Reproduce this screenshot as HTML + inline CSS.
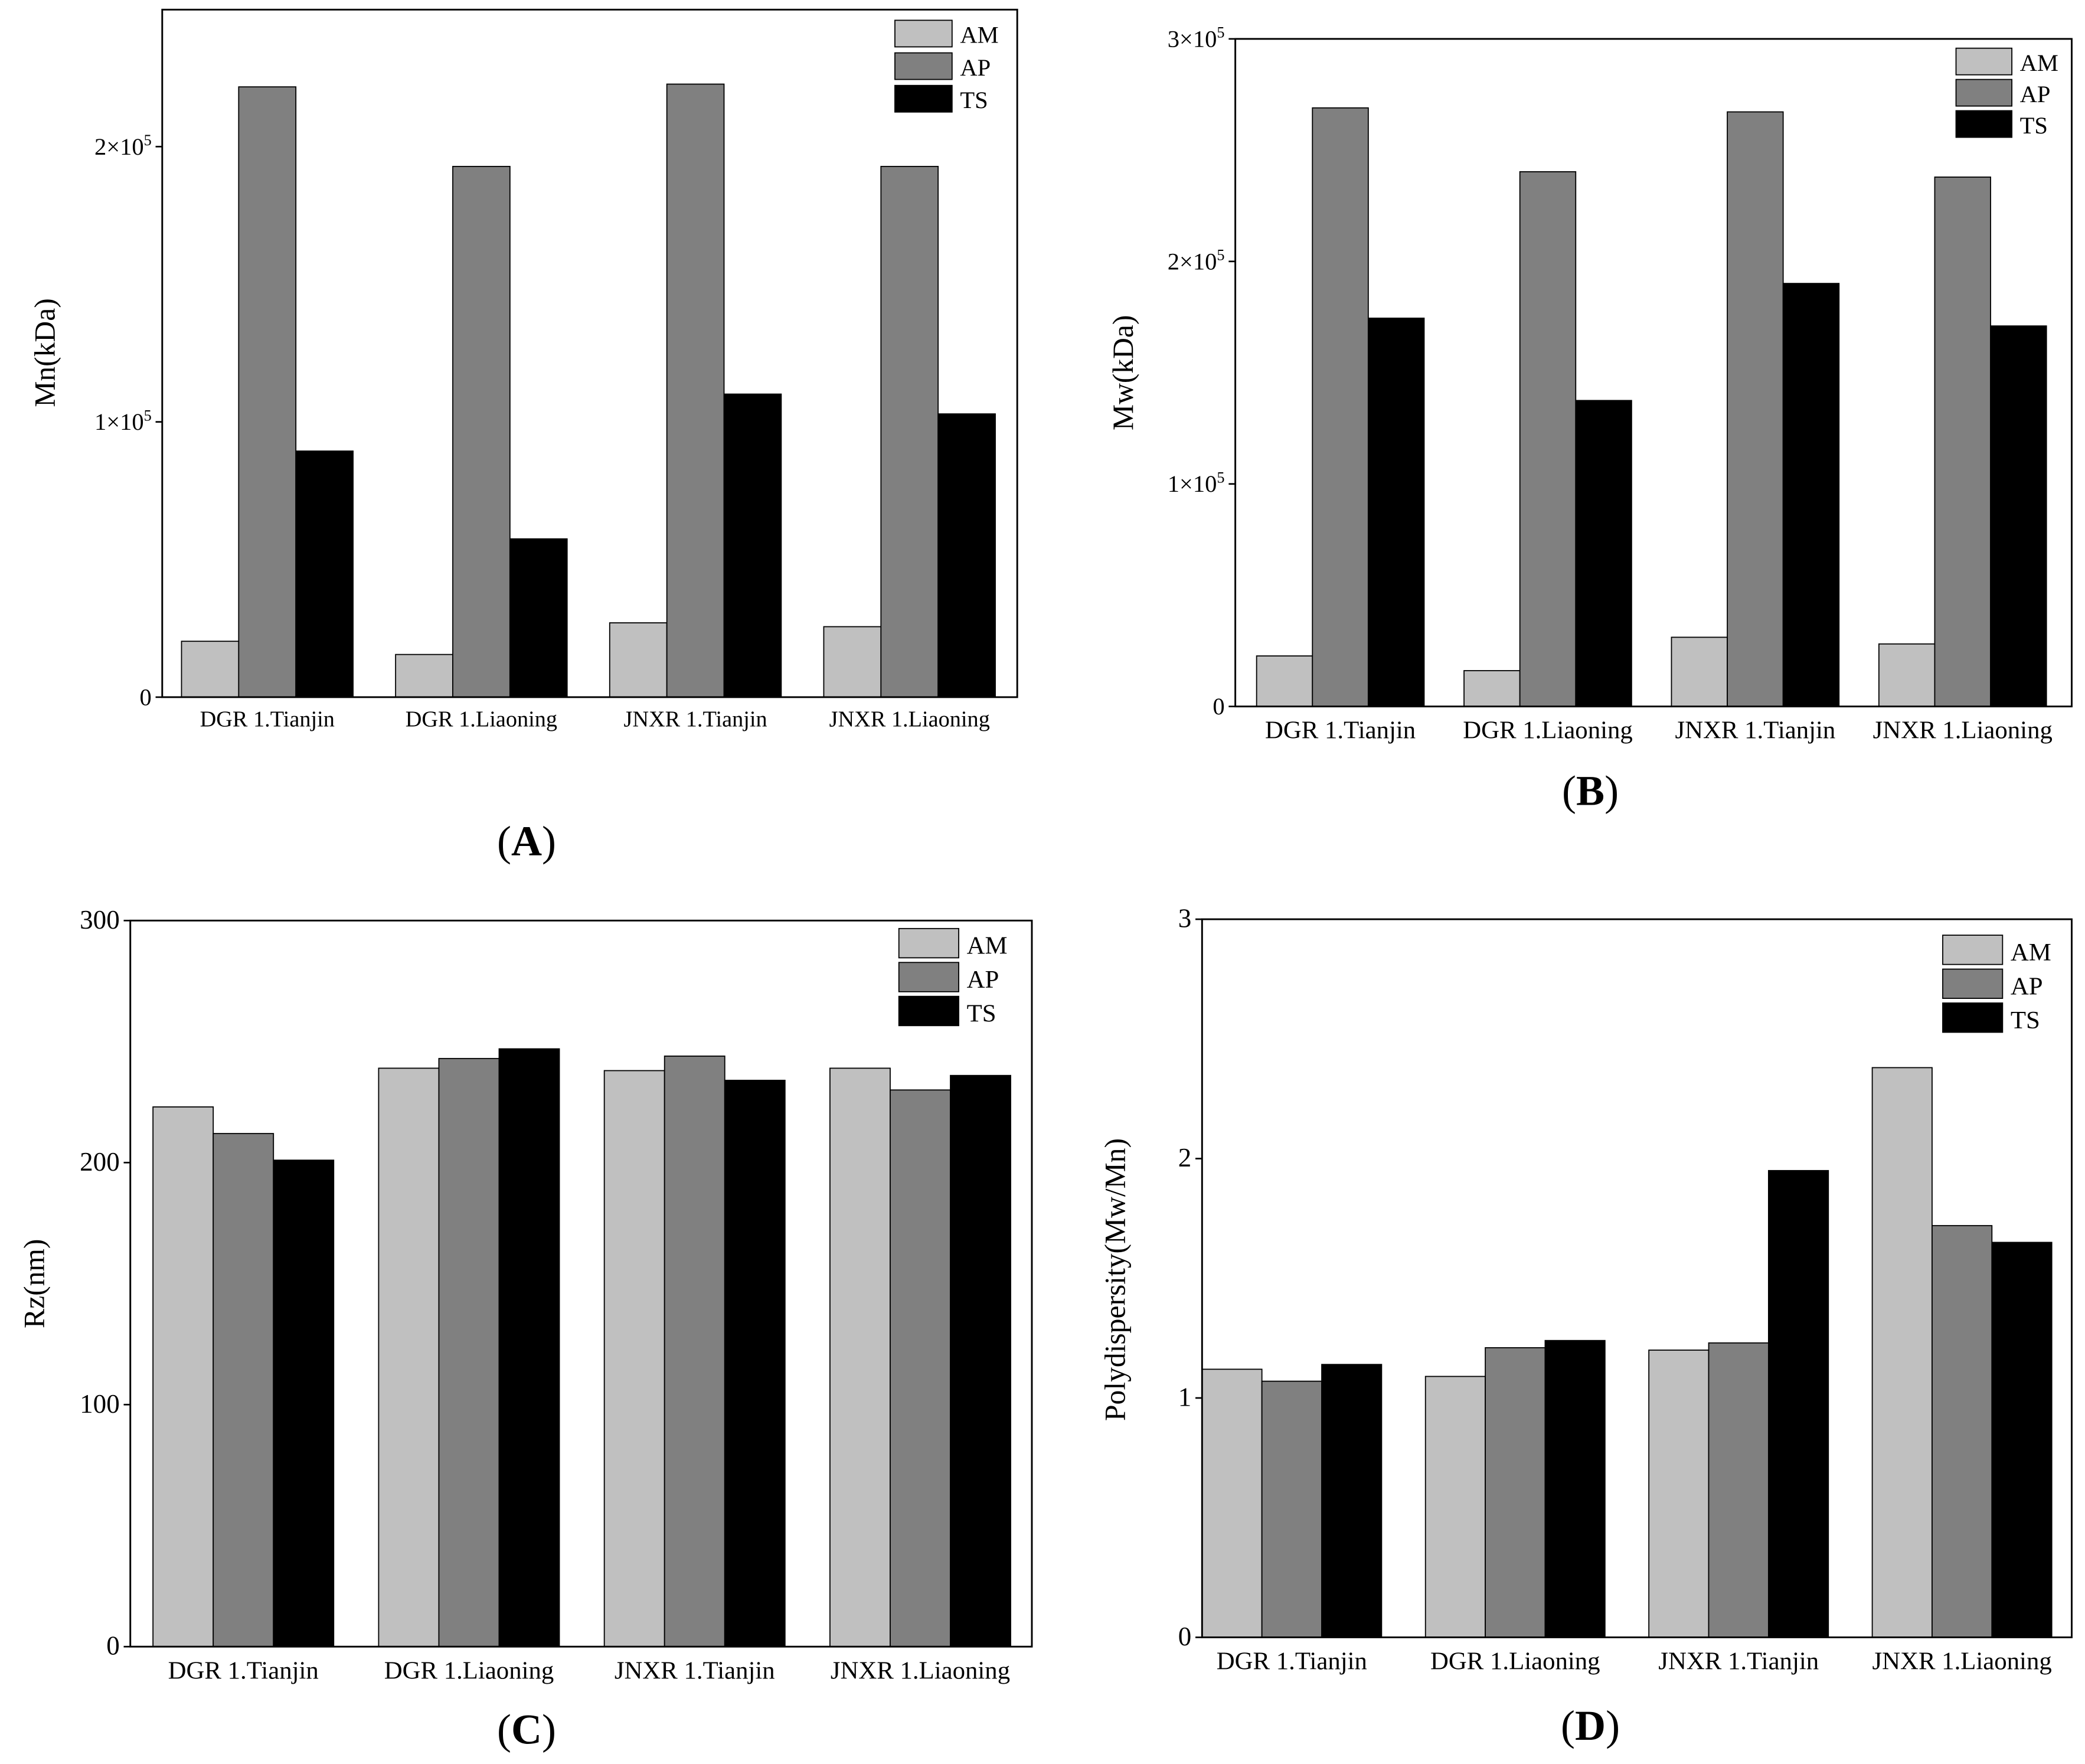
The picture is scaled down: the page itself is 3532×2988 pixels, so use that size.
<!DOCTYPE html>
<html><head><meta charset="utf-8"><style>
html,body{margin:0;padding:0;background:#fff;}
svg{display:block;}
text{font-family:"Liberation Serif",serif;fill:#000;}
</style></head>
<body>
<svg id="fig" width="3532" height="2988" viewBox="0 0 1568 1326" xmlns="http://www.w3.org/2000/svg"></svg>
<script>
const categories = ["DGR 1.Tianjin","DGR 1.Liaoning","JNXR 1.Tianjin","JNXR 1.Liaoning"];
const seriesNames = ["AM","AP","TS"];
const mnAM = [20300,15500,27000,25600];
const mnAP = [221700,192800,222700,192800];
const mnTS = [89400,57500,110100,102900];
const mwAM = [22700,16100,31100,28100];
const mwAP = [269000,240300,267200,237900];
const mwTS = [174500,137500,190100,171000];
const rzAM = [223,239,238,239];
const rzAP = [212,243,244,230];
const rzTS = [201,247,234,236];
const pdAM = [1.12,1.09,1.20,2.38];
const pdAP = [1.07,1.21,1.23,1.72];
const pdTS = [1.14,1.24,1.95,1.65];
const sciTicks = [0,100000,200000,300000];
const linTicks = [0,100,200,300];
const pdTicks = [0,1,2,3];

const NS="http://www.w3.org/2000/svg";
const svg=document.getElementById('fig');
const colors=["#c0c0c0","#808080","#000000"];
function mk(tag,attrs,parent){const e=document.createElementNS(NS,tag);for(const k in attrs)e.setAttribute(k,attrs[k]);(parent||svg).appendChild(e);return e;}
function txt(s,attrs,parent){const t=mk('text',attrs,parent);t.textContent=s;return t;}

function panel(o){
  const g=mk('g',{});
  
  
  const y=v=>o.bottom-(v-o.ymin)/(o.ymax-o.ymin)*(o.bottom-o.ytop);
  const x=(gi,si)=>o.c0+gi*o.gap+(si-1.5)*o.bw;
  const series=[o.a,o.b,o.c];
  series.forEach((arr,si)=>{
    arr.forEach((v,gi)=>{
      const r=mk('rect',{x:x(gi,si),y:y(v),width:o.bw,height:o.bottom-y(v),fill:colors[si],stroke:"#000","stroke-width":0.8},g);
      
      
    });
  });
  const fr=mk('rect',{x:o.left,y:o.top,width:o.right-o.left,height:o.bottom-o.top,fill:"none",stroke:"#000","stroke-width":1.3},g);
  
  
  o.ticks.forEach(t=>{
    if(y(t)<o.top-1)return;
    mk('line',{x1:o.left-5,x2:o.left,y1:y(t),y2:y(t),stroke:"#000","stroke-width":1.2},g);
    const tg=mk('text',{x:o.left-8,y:y(t)+6,"text-anchor":"end","font-size":o.tfs},g);
    
    
    if(o.sci&&t>0){tg.textContent=(t/100000)+"×10";const s=document.createElementNS(NS,'tspan');s.setAttribute('dy',-7);s.setAttribute('font-size',o.tfs*0.65);s.textContent="5";tg.appendChild(s);}
    else tg.textContent=String(t);
  });
  categories.forEach((c,gi)=>{
    const t=txt(c,{x:o.c0+gi*o.gap,y:o.xly,"text-anchor":"middle","font-size":o.xfs},g);
    
    
  });
  const yl=txt(o.ylabel,{x:o.ylx,y:o.yly,"text-anchor":"middle","font-size":22,transform:`rotate(-90 ${o.ylx} ${o.yly})`},g);
  
  
  seriesNames.forEach((n,si)=>{
    const ly=o.legy+si*o.legdy;
    const r=mk('rect',{x:o.legx,y:ly,width:o.legw,height:o.legh,fill:colors[si],stroke:"#000","stroke-width":0.8},g);
    
    
    const t=txt(n,{x:o.legx+o.legw+6,y:ly+o.legh-3,"font-size":o.lfs},g);
    
    
  });
  const pl=mk('text',{x:o.plx,y:o.ply,"text-anchor":"middle","font-size":32},g);
  
  
  pl.innerHTML='(<tspan font-weight="bold">'+o.letter+'</tspan>)';
}

panel({name:'panel-a-mn',left:122,right:765,top:7,bottom:524,ytop:110,ymin:0,ymax:200000,ticks:sciTicks,sci:true,
  c0:201,gap:161,bw:43,a:mnAM,b:mnAP,c:mnTS,xly:546,xfs:17,tfs:18,ylabel:"Mn(kDa)",ylx:41,yly:265,
  legx:673,legy:15,legdy:24.5,legw:43,legh:20,lfs:18,plx:396,ply:643,letter:"A"});
panel({name:'panel-b-mw',left:929,right:1558,top:29,bottom:531,ytop:29,ymin:0,ymax:300000,ticks:sciTicks,sci:true,
  c0:1008,gap:156,bw:42,a:mwAM,b:mwAP,c:mwTS,xly:555,xfs:19,tfs:18,ylabel:"Mw(kDa)",ylx:852,yly:280,
  legx:1471,legy:36,legdy:23.5,legw:42,legh:20,lfs:18,plx:1196,ply:605,letter:"B"});
panel({name:'panel-c-rz',left:98,right:776,top:692,bottom:1238,ytop:692,ymin:0,ymax:300,ticks:linTicks,sci:false,
  c0:183,gap:169.7,bw:45.3,a:rzAM,b:rzAP,c:rzTS,xly:1262,xfs:19,tfs:20,ylabel:"Rz(nm)",ylx:33,yly:965,
  legx:676,legy:698,legdy:25.5,legw:45,legh:22,lfs:19,plx:396,ply:1311,letter:"C"});
panel({name:'panel-d-polydispersity',left:904,right:1558,top:691,bottom:1231,ytop:691,ymin:0,ymax:3,ticks:pdTicks,sci:false,
  c0:971.5,gap:168,bw:45,a:pdAM,b:pdAP,c:pdTS,xly:1255,xfs:19,tfs:20,ylabel:"Polydispersity(Mw/Mn)",ylx:846,yly:962,
  legx:1461,legy:703,legdy:25.5,legw:45,legh:22,lfs:19,plx:1196,ply:1308,letter:"D"});
</script>
</body></html>
